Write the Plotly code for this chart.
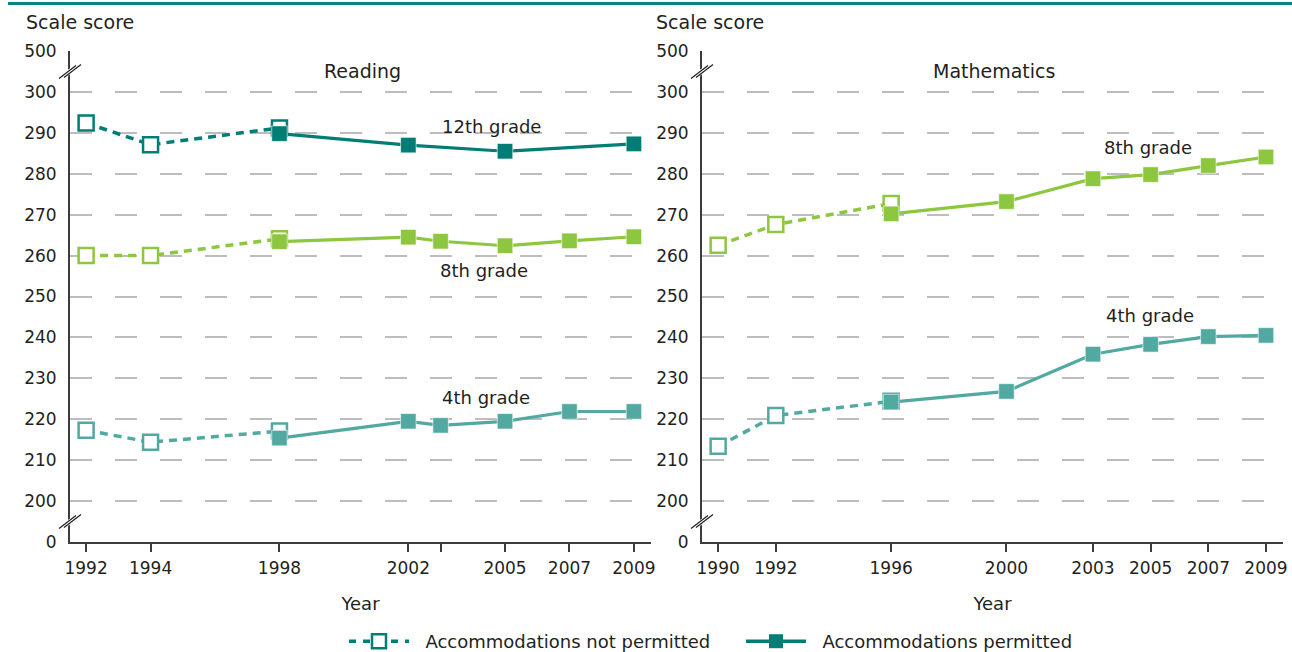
import plotly.graph_objects as go

# ---------------------- Data ----------------------

reading_np_years = [1992, 1994, 1998]
reading12_p_years = [1998, 2002, 2005, 2009]
reading_p_years = [1998, 2002, 2003, 2005, 2007, 2009]

read12_np = [292.4, 287.1, 291.2]
read12_p = [289.8, 287.0, 285.5, 287.3]
read8_np = [260.0, 260.0, 264.1]
read8_p = [263.4, 264.5, 263.5, 262.4, 263.6, 264.6]
read4_np = [217.3, 214.4, 217.1]
read4_p = [215.4, 219.5, 218.5, 219.5, 221.9, 221.9]

math_np_years = [1990, 1992, 1996]
math_p_years = [1996, 2000, 2003, 2005, 2007, 2009]

math8_np = [262.5, 267.6, 272.7]
math8_p = [270.2, 273.2, 278.8, 279.8, 282.0, 284.1]
math4_np = [213.4, 220.9, 224.4]
math4_p = [224.2, 226.8, 235.9, 238.3, 240.2, 240.5]

reading_ticks = [1992, 1994, 1998, 2002, 2003, 2005, 2007, 2009]
reading_ticktext = ["1992", "1994", "1998", "2002", "", "2005", "2007", "2009"]
math_ticks = [1990, 1992, 1996, 2000, 2003, 2005, 2007, 2009]
math_ticktext = [str(t) for t in math_ticks]

# broken scale: 190 stands for 0, 310 stands for 500
y_ticks = [190] + list(range(200, 301, 10)) + [310]
y_ticktext = ["0"] + [str(v) for v in range(200, 301, 10)] + ["500"]

C12 = "#007E75"
C8 = "#8DC63F"
C4 = "#52A9A2"
FONT = "DejaVu Sans"
TXT = "#231F20"

fig = go.Figure()


def add_pair(years_np, vals_np, years_p, vals_p, color, xa, ya):
    fig.add_trace(go.Scatter(
        x=years_np, y=vals_np, mode="lines+markers",
        line=dict(color=color, width=3.5, dash="8px,6px"),
        marker=dict(symbol="square", size=15, color="white",
                    line=dict(color=color, width=2.5)),
        xaxis=xa, yaxis=ya, showlegend=False, hoverinfo="skip",
    ))
    fig.add_trace(go.Scatter(
        x=years_p, y=vals_p, mode="lines+markers",
        line=dict(color=color, width=3.2),
        marker=dict(symbol="square", size=15.5, color=color,
                    line=dict(color="rgba(255,255,255,0.6)", width=1)),
        xaxis=xa, yaxis=ya, showlegend=False, hoverinfo="skip",
    ))


# ---- Reading ----
add_pair(reading_np_years, read12_np, reading12_p_years, read12_p, C12, "x", "y")
add_pair(reading_np_years, read8_np, reading_p_years, read8_p, C8, "x", "y")
add_pair(reading_np_years, read4_np, reading_p_years, read4_p, C4, "x", "y")

# ---- Mathematics ----
add_pair(math_np_years, math8_np, math_p_years, math8_p, C8, "x2", "y2")
add_pair(math_np_years, math4_np, math_p_years, math4_p, C4, "x2", "y2")

# ---- Legend entries ----
fig.add_trace(go.Scatter(
    x=[None], y=[None], mode="lines+markers", name="\u00a0\u00a0Accommodations not permitted",
    line=dict(color=C12, width=3.5, dash="7px,7px"),
    marker=dict(symbol="square", size=14, color="white", line=dict(color=C12, width=2.5)),
))
fig.add_trace(go.Scatter(
    x=[None], y=[None], mode="lines+markers", name="\u00a0\u00a0Accommodations permitted",
    line=dict(color=C12, width=3.5),
    marker=dict(symbol="square", size=14, color=C12),
))

# ---------------------- Axes ----------------------

W, H = 1292, 652
y_dom = [110 / H, 601 / H]

common_x = dict(
    showgrid=False, zeroline=False, showline=True, linecolor="#3C3C3C", linewidth=2,
    ticks="outside", ticklen=8, tickwidth=1.5, tickcolor="#3C3C3C", automargin=False,
    ticklabelstandoff=2,
    tickfont=dict(family=FONT, size=17, color=TXT),
    title=dict(text="Year", font=dict(family=FONT, size=18, color=TXT), standoff=20),
)
common_y = dict(
    range=[190, 310], domain=y_dom, tickvals=y_ticks, ticktext=y_ticktext,
    showgrid=True, gridcolor="#BDBDBD", gridwidth=1.5, griddash="22px,23px",
    zeroline=False, showline=True, linecolor="#3C3C3C", linewidth=2,
    ticks="", ticklabelstandoff=8, automargin=False,
    tickfont=dict(family=FONT, size=17, color=TXT),
)

fig.update_layout(
    xaxis=dict(common_x, domain=[70 / W, 651 / W], range=[1991.5, 2009.53],
               tickvals=reading_ticks, ticktext=reading_ticktext, anchor="y"),
    yaxis=dict(common_y, anchor="x"),
    xaxis2=dict(common_x, domain=[702 / W, 1283 / W], range=[1989.44, 2009.59],
                tickvals=math_ticks, ticktext=math_ticktext, anchor="y2"),
    yaxis2=dict(common_y, anchor="x2"),
)

# ---------------------- Text ----------------------

ann = []


def label(text, x, y, xref, yref, size=18, xanchor="center"):
    ann.append(dict(text=text, x=x, y=y, xref=xref, yref=yref, showarrow=False,
                    xanchor=xanchor, yanchor="middle",
                    font=dict(family=FONT, size=size, color=TXT)))


label("Scale score", 24 / W, (H - 22) / H, "paper", "paper", size=19, xanchor="left")
label("Scale score", 654 / W, (H - 22) / H, "paper", "paper", size=19, xanchor="left")
label("Reading", 2000.57, 305, "x", "y", size=19)
label("12th grade", 2004.58, 291.5, "x", "y")
label("8th grade", 2004.36, 256.3, "x", "y")
label("4th grade", 2004.4, 225.4, "x", "y")
label("Mathematics", 1999.57, 305, "x2", "y2", size=19)
label("8th grade", 2004.9, 286.3, "x2", "y2")
label("4th grade", 2004.96, 245.4, "x2", "y2")

# ---------------------- Shapes ----------------------

shapes = [dict(type="line", xref="paper", yref="paper", x0=8 / W, x1=1.0,
               y0=(H - 3.5) / H, y1=(H - 3.5) / H, line=dict(color="#00857B", width=3))]

for xr, yr in (("x domain", "y"), ("x2 domain", "y2")):
    for yv in (305, 195):
        base = dict(type="line", xref=xr, yref=yr, xanchor=0, yanchor=yv,
                    xsizemode="pixel", ysizemode="pixel", layer="above")
        shapes.append(dict(base, x0=-8, x1=8, y0=-5, y1=5,
                           line=dict(color="white", width=5)))
        shapes.append(dict(base, x0=-11, x1=6, y0=-7, y1=6,
                           line=dict(color="#231F20", width=1.2)))
        shapes.append(dict(base, x0=-6, x1=11, y0=-6, y1=7,
                           line=dict(color="#231F20", width=1.2)))

fig.update_layout(
    width=W, height=H,
    margin=dict(l=0, r=0, t=0, b=0, autoexpand=False),
    plot_bgcolor="white", paper_bgcolor="white",
    annotations=ann, shapes=shapes,
    font=dict(family=FONT, size=17, color=TXT),
    legend=dict(orientation="h", x=344 / W, xanchor="left", y=-8 / H, yanchor="bottom",
                font=dict(family=FONT, size=18, color=TXT),
                entrywidth=322, entrywidthmode="pixels",
                itemwidth=60, tracegroupgap=0),
)

# page margin would shift the fixed-size figure, drop it
fig.write_html(
    "out.html",
    config={"displayModeBar": False},
    post_script="document.body.style.margin='0';"
                "document.documentElement.style.overflow='hidden';",
)
